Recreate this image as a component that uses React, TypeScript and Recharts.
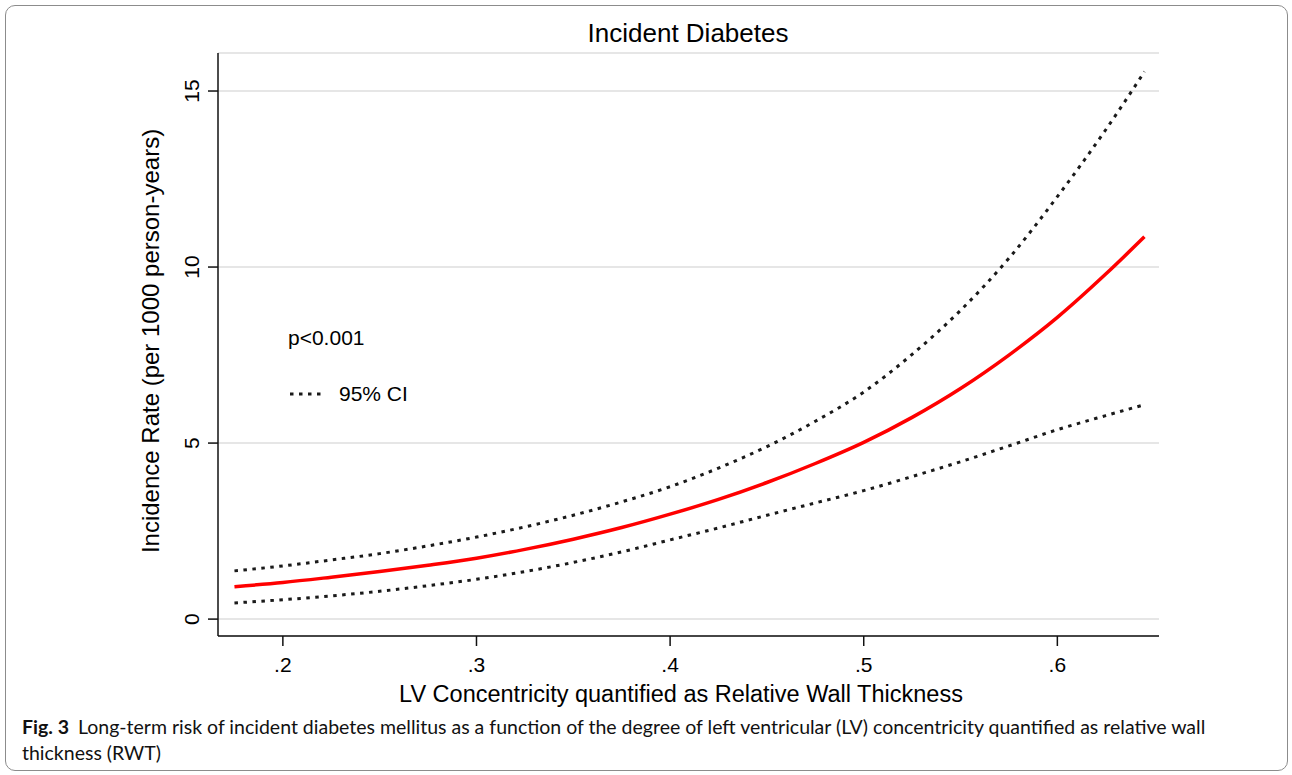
import { LineChart, Line, XAxis, YAxis, CartesianGrid } from 'recharts'

// relative wall thickness (x) and incidence rate per 1000 person-years
const rwt = [
  0.175, 0.2, 0.225, 0.25, 0.275, 0.3, 0.325, 0.35, 0.375, 0.4,
  0.425, 0.45, 0.475, 0.5, 0.525, 0.55, 0.575, 0.6, 0.625, 0.645,
]
const rate = [
  0.92, 1.04, 1.19, 1.35, 1.53, 1.73, 1.98, 2.27, 2.6, 2.98,
  3.4, 3.88, 4.42, 5.02, 5.73, 6.55, 7.5, 8.57, 9.8, 10.86,
]
const upper = [
  1.37, 1.51, 1.68, 1.86, 2.08, 2.33, 2.62, 2.95, 3.33, 3.76,
  4.29, 4.9, 5.62, 6.45, 7.52, 8.77, 10.25, 12.0, 13.9, 15.55,
]
const lower = [
  0.46, 0.55, 0.66, 0.79, 0.95, 1.13, 1.35, 1.61, 1.91, 2.25,
  2.59, 2.95, 3.3, 3.65, 4.05, 4.47, 4.92, 5.38, 5.78, 6.09,
]

const xTicks = [0.2, 0.3, 0.4, 0.5, 0.6]
const yTicks = [0, 5, 10, 15]

const data = rwt.map((x, i) => ({
  x,
  rate: rate[i],
  upper: upper[i],
  lower: lower[i],
}))

const FONT = '"Liberation Sans", Arial, Helvetica, sans-serif'

const YTick = (props: any) => {
  const { x, y, payload } = props
  const cx = x - 14
  return (
    <text
      x={cx}
      y={y}
      transform={`rotate(-90 ${cx} ${y})`}
      textAnchor="middle"
      dominantBaseline="central"
      fontSize={21}
      fill="#000"
      fontFamily={FONT}
    >
      {payload.value}
    </text>
  )
}

const XTick = (props: any) => {
  const { x, y, payload } = props
  return (
    <text
      x={x}
      y={y + 24}
      textAnchor="middle"
      fontSize={21}
      fill="#000"
      fontFamily={FONT}
    >
      {fmtX(payload.value)}
    </text>
  )
}

const fmtX = (v: number) => v.toFixed(1).replace(/^0/, '')

export default function App() {
  return (
    <div
      style={{
        position: 'absolute',
        left: 0,
        top: 0,
        width: 1292,
        height: 775,
        background: '#fff',
        fontFamily: FONT,
      }}
    >
      <div
        style={{
          position: 'absolute',
          left: 5,
          top: 5,
          width: 1281,
          height: 764,
          border: '1px solid #8c8c8c',
          borderRadius: 10,
        }}
      />

      <LineChart
        width={1292}
        height={775}
        data={data}
        margin={{ top: 53, right: 133, bottom: 99, left: 138 }}
        style={{ position: 'absolute', left: 0, top: 0 }}
      >
        <CartesianGrid
          vertical={false}
          stroke="#e6e6e6"
          strokeWidth={2}
        />
        <XAxis
          dataKey="x"
          type="number"
          domain={[0.1665, 0.6525]}
          ticks={xTicks}
          height={40}
          tickSize={10}
          axisLine={{ stroke: '#111', strokeWidth: 1.5 }}
          tickLine={{ stroke: '#111', strokeWidth: 1.5 }}
          tick={<XTick />}
          allowDataOverflow
        />
        <YAxis
          type="number"
          domain={[-0.48, 16.08]}
          ticks={yTicks}
          width={80}
          tickSize={10}
          axisLine={{ stroke: '#111', strokeWidth: 1.5 }}
          tickLine={{ stroke: '#111', strokeWidth: 1.5 }}
          tick={<YTick />}
          allowDataOverflow
        />
        <Line
          type="monotone"
          dataKey="upper"
          stroke="#1a1a1a"
          strokeWidth={3}
          strokeDasharray="3.5 5.5"
          dot={false}
          isAnimationActive={false}
        />
        <Line
          type="monotone"
          dataKey="lower"
          stroke="#1a1a1a"
          strokeWidth={3}
          strokeDasharray="3.5 5.5"
          dot={false}
          isAnimationActive={false}
        />
        <Line
          type="monotone"
          dataKey="rate"
          stroke="#ff0000"
          strokeWidth={3.5}
          dot={false}
          isAnimationActive={false}
        />
      </LineChart>

      <svg
        width={1292}
        height={775}
        style={{ position: 'absolute', left: 0, top: 0, pointerEvents: 'none' }}
        fontFamily={FONT}
      >
        <text x={688} y={42} textAnchor="middle" fontSize={26} fill="#000">
          Incident Diabetes
        </text>
        <text
          x={150}
          y={341}
          transform="rotate(-90 150 341)"
          textAnchor="middle"
          dominantBaseline="central"
          fontSize={24}
          fill="#000"
        >
          Incidence Rate (per 1000 person-years)
        </text>
        <text x={681} y={702} textAnchor="middle" fontSize={23.5} fill="#000">
          LV Concentricity quantified as Relative Wall Thickness
        </text>
        <text x={288} y={345} fontSize={21} fill="#000">
          p&lt;0.001
        </text>
        <line
          x1={290}
          y1={394}
          x2={324}
          y2={394}
          stroke="#1a1a1a"
          strokeWidth={3}
          strokeDasharray="3.5 5.5"
        />
        <text x={339} y={401} fontSize={21} fill="#000">
          95% CI
        </text>
      </svg>

      <div
        style={{
          position: 'absolute',
          left: 22,
          top: 714,
          width: 1250,
          fontFamily: 'Lato, "Open Sans", sans-serif',
          fontSize: 19.5,
          lineHeight: '26px',
          color: '#111',
          whiteSpace: 'nowrap',
        }}
      >
        <div>
          <span style={{ fontWeight: 'bold', marginRight: 9 }}>Fig. 3</span>
          <span>
            Long-term risk of incident diabetes mellitus as a function of the degree of left
            ventricular (LV) concentricity quantified as relative wall
          </span>
        </div>
        <div>thickness (RWT)</div>
      </div>
    </div>
  )
}
